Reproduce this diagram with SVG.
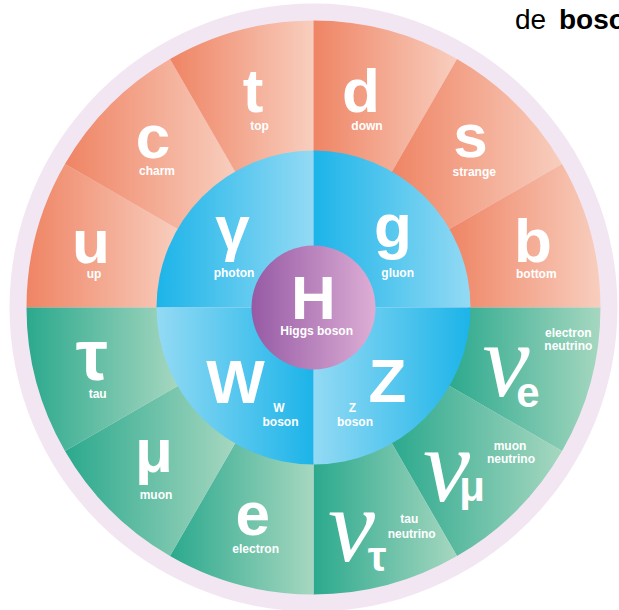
<svg xmlns="http://www.w3.org/2000/svg" width="619" height="610" viewBox="0 0 619 610">
<defs>
<linearGradient id="gO" x1="0" y1="0" x2="1" y2="0"><stop offset="0" stop-color="#EF8464"/><stop offset="1" stop-color="#F8CEBE"/></linearGradient>
<linearGradient id="gG" x1="0" y1="0" x2="1" y2="0"><stop offset="0" stop-color="#2BA98D"/><stop offset="1" stop-color="#A6D7C0"/></linearGradient>
<linearGradient id="gB" x1="0" y1="0" x2="1" y2="0"><stop offset="0" stop-color="#1CB4E9"/><stop offset="1" stop-color="#93DAF4"/></linearGradient>
<linearGradient id="gBr" x1="0" y1="0" x2="1" y2="0"><stop offset="0" stop-color="#93DAF4"/><stop offset="1" stop-color="#1CB4E9"/></linearGradient>
<linearGradient id="gH" x1="0" y1="0" x2="1" y2="0"><stop offset="0" stop-color="#965AA5"/><stop offset="1" stop-color="#DDAED5"/></linearGradient>
<style>
.sym{font-family:"Liberation Sans",Arial,sans-serif;font-weight:bold;font-size:62px;fill:#fff;text-anchor:middle}
.lab{font-family:"Liberation Sans",Arial,sans-serif;font-weight:bold;font-size:12px;fill:#fff;text-anchor:middle}
.nu{font-family:"Liberation Serif","Times New Roman",serif;font-style:italic;font-size:106px;fill:#fff;text-anchor:middle}
.sub{font-family:"Liberation Sans",Arial,sans-serif;font-weight:bold;font-size:42px;fill:#fff;text-anchor:middle}
.q{fill:url(#gO)}
.l{fill:url(#gG)}
</style>
</defs>
<rect width="619" height="610" fill="#fff"/>
<text x="515" y="29" font-family="'Liberation Sans',Arial,sans-serif" font-size="28" fill="#000">de<tspan x="559" font-weight="bold">boso</tspan></text>
<circle cx="313.5" cy="307.5" r="304" fill="#F3E6F3"/>
<g id="up"><path class="q" d="M26.5,307.5 A287,287 0 0 1 64.95,164 L179.27,230 A155,155 0 0 0 158.5,307.5 Z"/><text class="sym" x="91" y="263">u</text><text class="lab" x="94" y="278">up</text></g>
<g id="charm"><path class="q" d="M64.95,164 A287,287 0 0 1 170,58.95 L236,173.27 A155,155 0 0 0 179.27,230 Z"/><text class="sym" x="153" y="158">c</text><text class="lab" x="157" y="175">charm</text></g>
<g id="top"><path class="q" d="M170,58.95 A287,287 0 0 1 313.5,20.5 L313.5,152.5 A155,155 0 0 0 236,173.27 Z"/><text class="sym" x="253" y="112">t</text><text class="lab" x="259.5" y="130">top</text></g>
<g id="down"><path class="q" d="M313.5,20.5 A287,287 0 0 1 457,58.95 L391,173.27 A155,155 0 0 0 313.5,152.5 Z"/><text class="sym" x="361" y="112">d</text><text class="lab" x="367" y="130">down</text></g>
<g id="strange"><path class="q" d="M457,58.95 A287,287 0 0 1 562.05,164 L447.73,230 A155,155 0 0 0 391,173.27 Z"/><text class="sym" x="470.5" y="157">s</text><text class="lab" x="474.3" y="176">strange</text></g>
<g id="bottom"><path class="q" d="M562.05,164 A287,287 0 0 1 600.5,307.5 L468.5,307.5 A155,155 0 0 0 447.73,230 Z"/><text class="sym" x="533" y="262">b</text><text class="lab" x="536.3" y="278">bottom</text></g>
<g id="electron-neutrino"><path class="l" d="M600.5,307.5 A287,287 0 0 1 562.05,451 L447.73,385 A155,155 0 0 0 468.5,307.5 Z"/><text class="nu" x="506" y="396">ν</text><text class="sub" x="528" y="407">e</text><text class="lab" x="568.3" y="336.7">electron</text><text class="lab" x="568.3" y="350">neutrino</text></g>
<g id="muon-neutrino"><path class="l" d="M562.05,451 A287,287 0 0 1 457,556.05 L391,441.73 A155,155 0 0 0 447.73,385 Z"/><text class="nu" x="446.5" y="501">ν</text><text class="sub" x="472" y="501">μ</text><text class="lab" x="510" y="450">muon</text><text class="lab" x="511" y="463.3">neutrino</text></g>
<g id="tau-neutrino"><path class="l" d="M457,556.05 A287,287 0 0 1 313.5,594.5 L313.5,462.5 A155,155 0 0 0 391,441.73 Z"/><text class="nu" x="351.5" y="561">ν</text><text class="sub" x="377" y="571">τ</text><text class="lab" x="409.3" y="523.3">tau</text><text class="lab" x="411.7" y="537.7">neutrino</text></g>
<g id="electron"><path class="l" d="M313.5,594.5 A287,287 0 0 1 170,556.05 L236,441.73 A155,155 0 0 0 313.5,462.5 Z"/><text class="sym" x="252.7" y="535">e</text><text class="lab" x="255.7" y="553.3">electron</text></g>
<g id="muon"><path class="l" d="M170,556.05 A287,287 0 0 1 64.95,451 L179.27,385 A155,155 0 0 0 236,441.73 Z"/><text class="sym" x="154" y="472">μ</text><text class="lab" x="156" y="499">muon</text></g>
<g id="tau"><path class="l" d="M64.95,451 A287,287 0 0 1 26.5,307.5 L158.5,307.5 A155,155 0 0 0 179.27,385 Z"/><text class="sym" x="91.7" y="380" style="font-size:72px">τ</text><text class="lab" x="97.7" y="398.3">tau</text></g>
<g id="photon"><path fill="url(#gB)" d="M313.5,307.5 L156.5,307.5 A157,157 0 0 1 313.5,150.5 Z"/><text class="sym" x="232.5" y="249">γ</text><text class="lab" x="234" y="276.7">photon</text></g>
<g id="gluon"><path fill="url(#gB)" d="M313.5,307.5 L313.5,150.5 A157,157 0 0 1 470.5,307.5 Z"/><text class="sym" x="393" y="247">g</text><text class="lab" x="397.7" y="276.7">gluon</text></g>
<g id="z-boson"><path fill="url(#gBr)" d="M313.5,307.5 L470.5,307.5 A157,157 0 0 1 313.5,464.5 Z"/><text class="sym" x="387.5" y="402">Z</text><text class="lab" x="352.3" y="411.7">Z</text><text class="lab" x="355" y="426">boson</text></g>
<g id="w-boson"><path fill="url(#gBr)" d="M313.5,307.5 L313.5,464.5 A157,157 0 0 1 156.5,307.5 Z"/><text class="sym" x="235.5" y="403">W</text><text class="lab" x="279" y="411.7">W</text><text class="lab" x="280.5" y="426">boson</text></g>
<g id="higgs"><circle cx="313.5" cy="307.5" r="62" fill="url(#gH)"/><text class="sym" x="313.5" y="319">H</text><text class="lab" x="316.7" y="335">Higgs boson</text></g>
</svg>
